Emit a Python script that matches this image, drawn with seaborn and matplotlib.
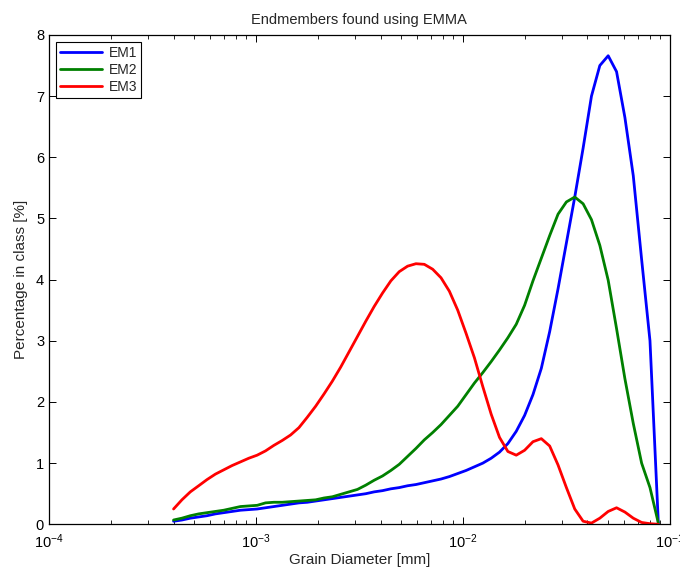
import matplotlib
matplotlib.use("Agg")
import matplotlib.pyplot as plt
import seaborn as sns
import pandas as pd
from matplotlib.ticker import LogLocator, NullFormatter

# Grain diameter classes [mm]
diameter = [0.000400, 0.000439, 0.000482, 0.000529, 0.000580, 0.000637, 0.000699,
            0.000767, 0.000842, 0.000924, 0.001014, 0.001113, 0.001221, 0.001340,
            0.001471, 0.001614, 0.001771, 0.001944, 0.002133, 0.002341, 0.002569,
            0.002820, 0.003095, 0.003396, 0.003727, 0.004091, 0.004489, 0.004927,
            0.005407, 0.005934, 0.006512, 0.007147, 0.007843, 0.008608, 0.009447,
            0.010368, 0.011378, 0.012487, 0.013704, 0.015039, 0.016505, 0.018114,
            0.019879, 0.021817, 0.023943, 0.026276, 0.028837, 0.031648, 0.034732,
            0.038117, 0.041832, 0.045908, 0.050383, 0.055293, 0.060682, 0.066596,
            0.073086, 0.080209, 0.088026]

em1 = [0.05, 0.07, 0.10, 0.12, 0.14, 0.17, 0.19, 0.21, 0.23, 0.24, 0.25, 0.27,
       0.29, 0.31, 0.33, 0.35, 0.36, 0.38, 0.40, 0.42, 0.44, 0.46, 0.48, 0.50,
       0.53, 0.55, 0.58, 0.60, 0.63, 0.65, 0.68, 0.71, 0.74, 0.78, 0.83, 0.88,
       0.94, 1.00, 1.08, 1.18, 1.32, 1.52, 1.78, 2.12, 2.55, 3.15, 3.85, 4.60,
       5.35, 6.15, 7.00, 7.50, 7.66, 7.40, 6.65, 5.70, 4.33, 3.00, 0.02]

em2 = [0.07, 0.10, 0.14, 0.17, 0.19, 0.21, 0.23, 0.26, 0.29, 0.30, 0.31, 0.35,
       0.36, 0.36, 0.37, 0.38, 0.39, 0.40, 0.43, 0.45, 0.49, 0.53, 0.57, 0.64,
       0.72, 0.79, 0.88, 0.98, 1.11, 1.24, 1.38, 1.50, 1.63, 1.78, 1.93, 2.12,
       2.31, 2.48, 2.66, 2.85, 3.05, 3.27, 3.58, 3.98, 4.35, 4.72, 5.07, 5.27,
       5.35, 5.24, 4.98, 4.56, 3.99, 3.20, 2.38, 1.65, 1.00, 0.60, 0.02]

em3 = [0.25, 0.40, 0.53, 0.63, 0.73, 0.82, 0.89, 0.96, 1.02, 1.08, 1.13, 1.20,
       1.29, 1.37, 1.46, 1.58, 1.75, 1.93, 2.13, 2.34, 2.57, 2.82, 3.07, 3.32,
       3.56, 3.78, 3.98, 4.13, 4.22, 4.26, 4.25, 4.17, 4.03, 3.81, 3.50, 3.12,
       2.72, 2.25, 1.80, 1.42, 1.19, 1.13, 1.21, 1.35, 1.40, 1.28, 0.97, 0.60,
       0.25, 0.05, 0.02, 0.10, 0.21, 0.27, 0.20, 0.10, 0.03, 0.01, 0.00]

series_names = ["EM1", "EM2", "EM3"]
colors = {"EM1": "#0000ff", "EM2": "#008000", "EM3": "#ff0000"}

df = pd.concat([
    pd.DataFrame({"diameter": diameter, "pct": vals, "EM": name})
    for name, vals in zip(series_names, [em1, em2, em3])
], ignore_index=True)

sns.set_style("ticks")
plt.rcParams["font.family"] = ["Liberation Sans", "DejaVu Sans"]
plt.rcParams["mathtext.fontset"] = "custom"
plt.rcParams["mathtext.rm"] = "Liberation Sans"
plt.rcParams["mathtext.it"] = "Liberation Sans:italic"

fig = plt.figure(figsize=(6.8, 5.71), dpi=100)
ax = fig.add_axes([0.072, 0.0818, 0.913, 0.857])

sns.lineplot(data=df, x="diameter", y="pct", hue="EM", palette=colors,
             hue_order=series_names, linewidth=2.0, ax=ax, legend=True,
             estimator=None, sort=False)

ax.set_xscale("log")
ax.set_xlim(1e-4, 1e-1)
ax.set_ylim(0, 8)
ax.set_yticks(range(0, 9))
ax.xaxis.set_major_locator(LogLocator(base=10, numticks=10))
ax.xaxis.set_minor_locator(LogLocator(base=10, subs=range(2, 10), numticks=20))
ax.xaxis.set_minor_formatter(NullFormatter())

ax.tick_params(which="both", direction="in", top=True, right=True,
               labelsize=10.5, colors="black")
ax.tick_params(which="major", length=5, width=0.7)
ax.tick_params(which="minor", length=3, width=0.6)
ax.tick_params(axis="x", which="major", pad=6)
for s in ax.spines.values():
    s.set_linewidth(0.9)
    s.set_color("black")

ax.set_title("Endmembers found using EMMA", fontsize=10.5, pad=8)
ax.set_xlabel("Grain Diameter [mm]", fontsize=11, labelpad=1)
ax.set_ylabel("Percentage in class [%]", fontsize=11, labelpad=6)

leg = ax.legend(loc="upper left", frameon=True, fancybox=False, fontsize=10,
                handlelength=3.0, borderpad=0.3, labelspacing=0.2,
                borderaxespad=0.5, handletextpad=0.5)
leg.get_frame().set_edgecolor("black")
leg.get_frame().set_linewidth(0.8)
leg.get_frame().set_alpha(1)
for line in leg.get_lines():
    line.set_linewidth(2.0)

fig.savefig("out.png", dpi=100)
